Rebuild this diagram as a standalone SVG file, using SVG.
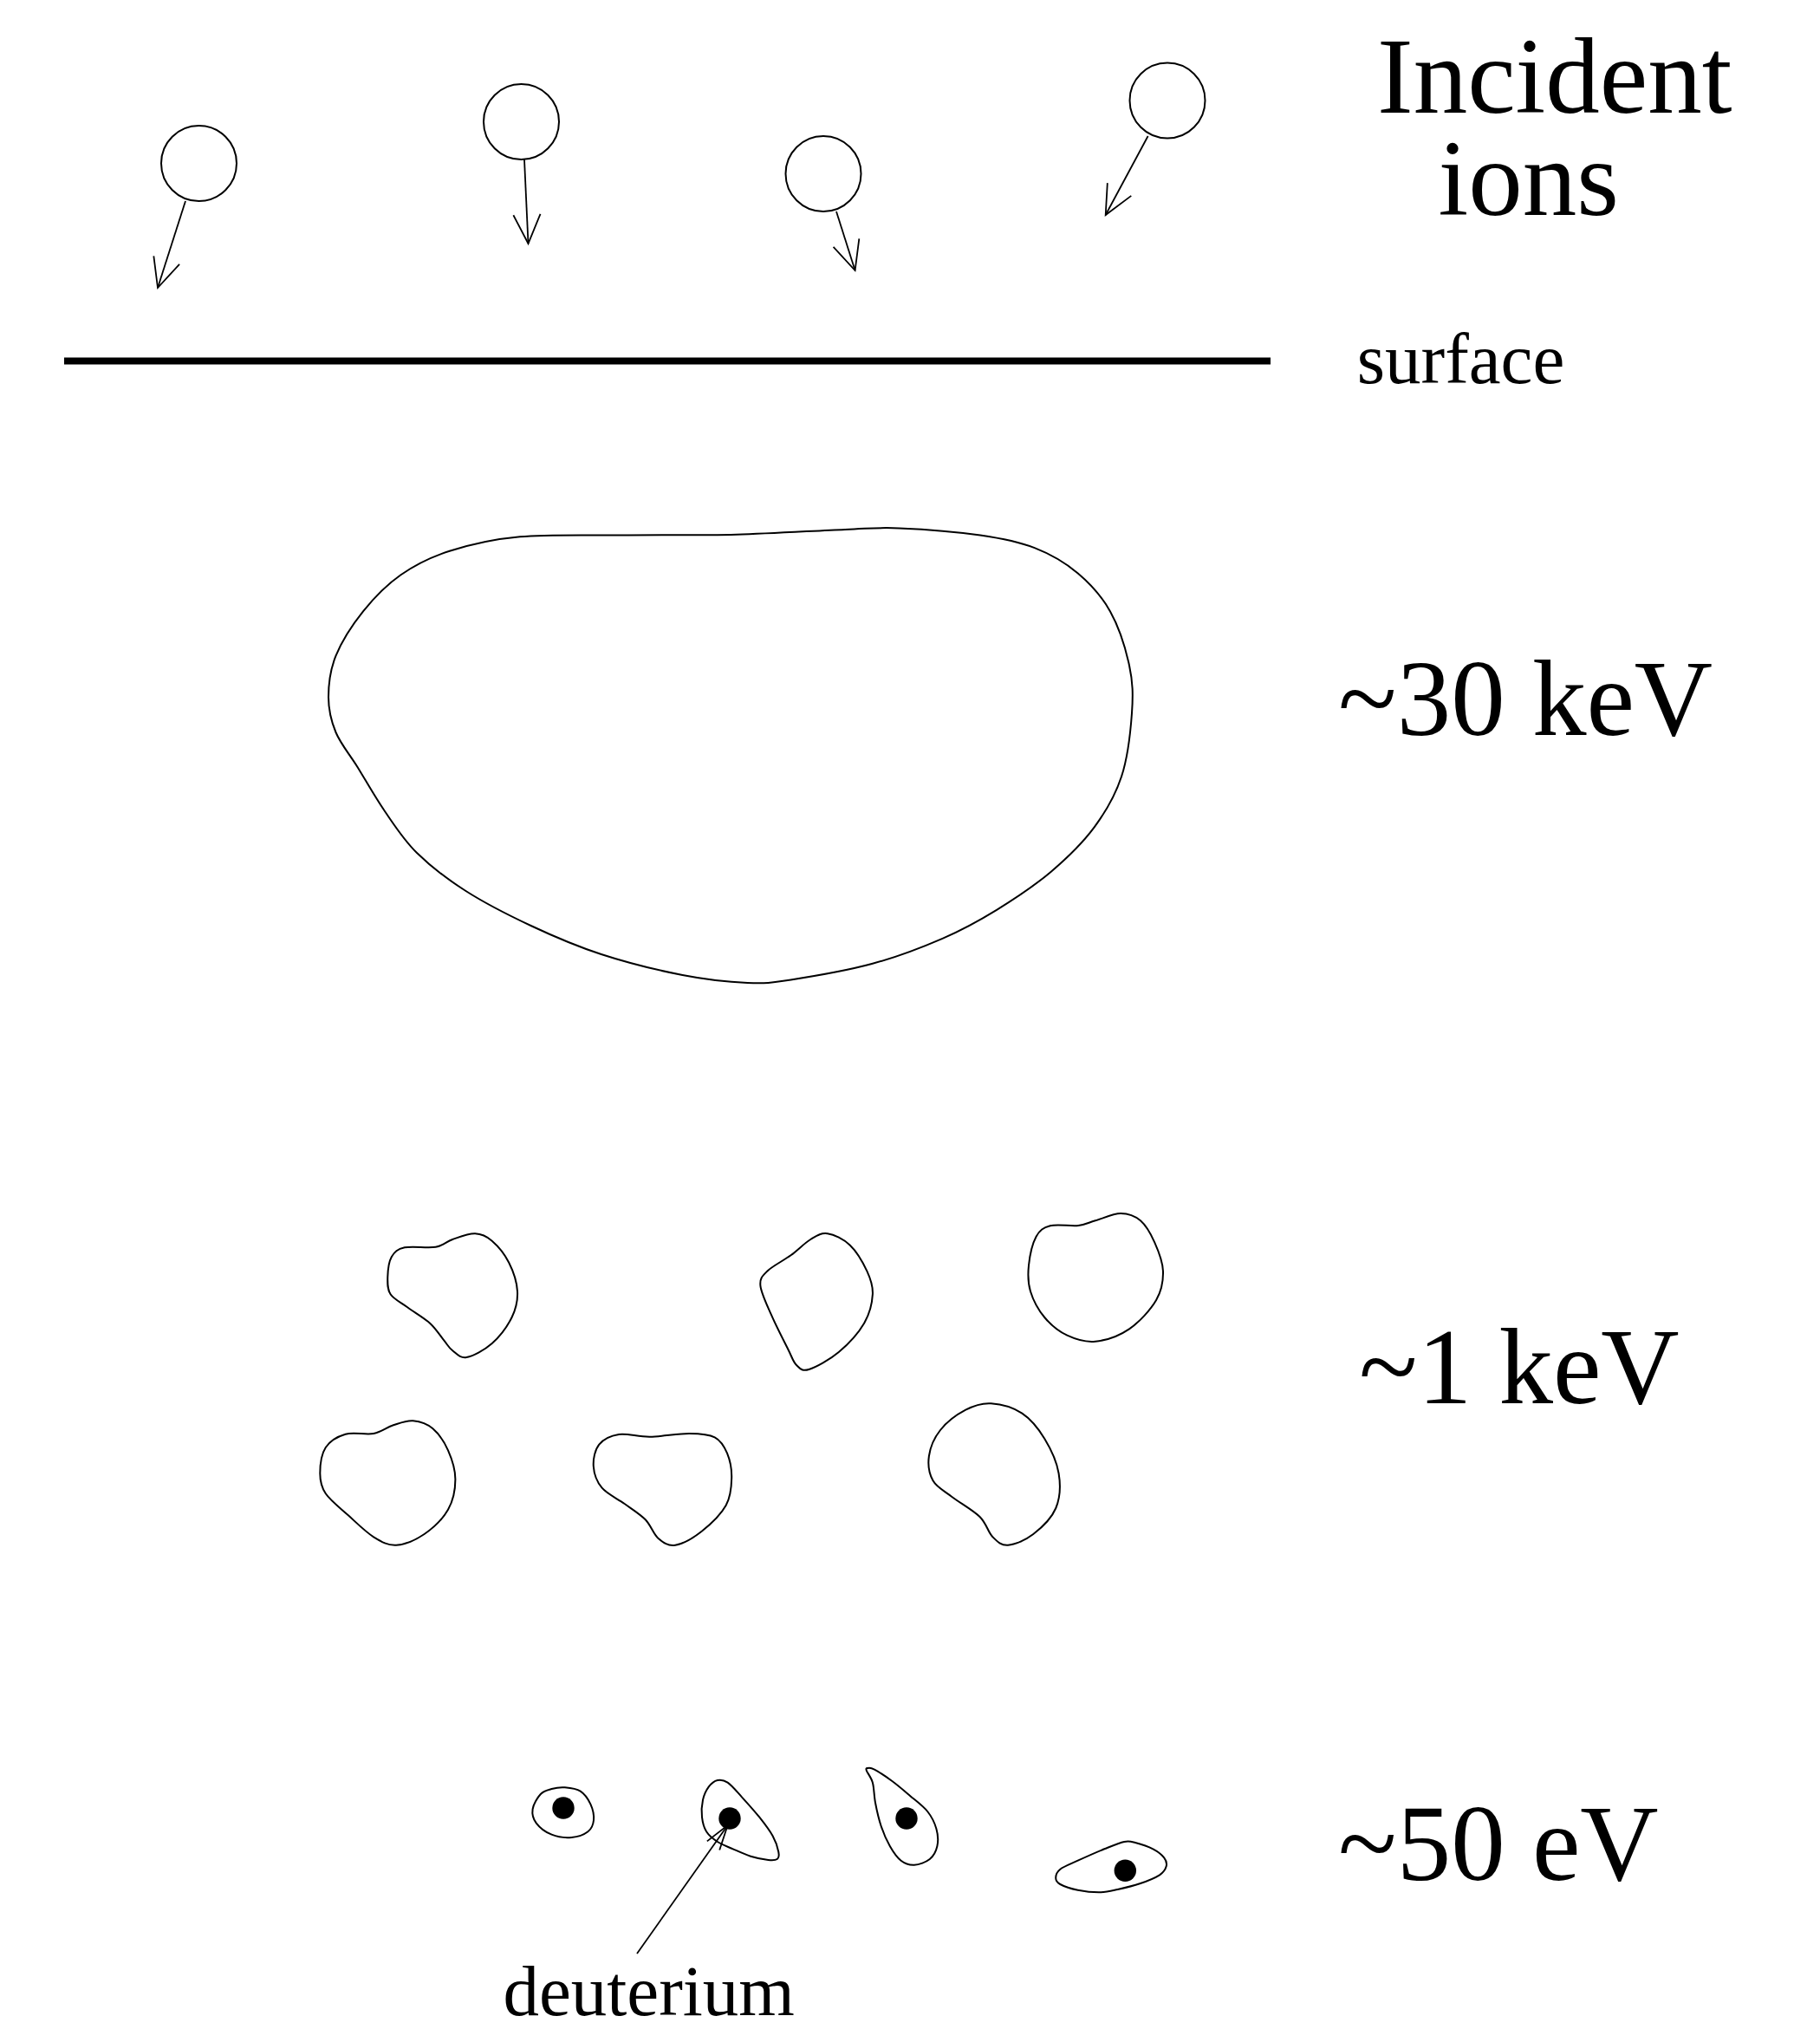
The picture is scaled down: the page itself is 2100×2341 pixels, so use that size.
<svg xmlns="http://www.w3.org/2000/svg" width="2100" height="2341" viewBox="0 0 2100 2341">
<style>
.ln{fill:none;stroke:#000;stroke-width:2;stroke-linejoin:round;stroke-linecap:round}
.ar{fill:none;stroke:#000;stroke-width:1.8}
.dot{fill:#000;stroke:none}
.big{font-family:"Liberation Serif","Times New Roman",serif;font-size:125px;fill:#000}
.sm{font-family:"Liberation Serif","Times New Roman",serif;font-size:83px;fill:#000}
</style>
<defs>
<marker id="vhead" markerUnits="userSpaceOnUse" orient="auto" refX="0" refY="0" markerWidth="40" markerHeight="40" overflow="visible">
<path d="M-33.5,-15.6 L0,0 L-33.5,15.6" fill="none" stroke="#000" stroke-width="1.8"/>
</marker>
<marker id="vhead2" markerUnits="userSpaceOnUse" orient="auto" refX="0" refY="0" markerWidth="40" markerHeight="40" overflow="visible">
<path d="M-28.7,-8.8 L0,0 L-28.7,8.8" fill="none" stroke="#000" stroke-width="1.8"/>
</marker>
</defs>
<rect x="0" y="0" width="2100" height="2341" fill="#fff"/>

<g id="ion1"><circle class="ln" cx="229.5" cy="188.5" r="43.5"/></g>
<g id="ion2"><circle class="ln" cx="601.5" cy="140.5" r="43.5"/></g>
<g id="ion3"><circle class="ln" cx="950" cy="200.5" r="43.5"/></g>
<g id="ion4"><circle class="ln" cx="1347" cy="116" r="43.5"/></g>

<g id="label-incident">
<text class="big"><tspan x="1589" y="130">Incident</tspan><tspan x="1659.5" y="248">ions</tspan></text>
</g>

<g id="surface">
<line x1="74" y1="416.5" x2="1466" y2="416.5" stroke="#000" stroke-width="8"/>
<text class="sm" x="1565.7" y="441.7">surface</text>
</g>

<g id="cascade-30keV">
<path class="ln" d="M518.75,635.8 C541.65,628.5 565.6,622.35 600,619.3 S683.3,617.9 725,617.5 S808.3,617.8 850,616.7 S943.75,612.1 975,610.9 S1011.5,608.3 1037.5,609.4 S1105,613.7 1131,617.5 S1174.95,624.8 1193.75,632.1 S1229.25,649.2 1243.75,661.4 S1271.1,687.7 1281,705.4 S1298.8,748.15 1303,767.7 S1307.5,801.3 1306,822.7 S1301.25,874 1294,896 S1276.1,936.3 1262.5,954.6 S1231.25,990 1212.5,1005.9 S1170.8,1037 1150,1049.8 S1111.5,1072.4 1087.5,1082.8 S1035.2,1104.1 1006,1112 S936.4,1126.7 912.5,1130.4 S883.3,1134.9 862.5,1134 S815.6,1130.5 787.5,1125 S722.95,1110.5 693.75,1101 S638.5,1080.2 612.5,1068 S559.4,1042 537.5,1028 S496.6,999.3 481,984 S455.4,952.5 444,936 S421.9,900.2 412.5,885 S393.1,858.45 387.5,845 S379,819 379,804.3 S380.8,773.2 387.5,756.7 S406.5,721 419,705.4 S445.9,674.9 462.5,663.3 S495.85,643.1 518.75,635.8 Z"/>
<text class="big" x="1544" y="848">~30 keV</text>
</g>

<g id="cascade-1keV">
<path class="ln" d="M466.9,1439.3 C475.4,1437.4 493.5,1440.25 502.7,1438.7 S514.6,1432.6 522.2,1430 S540.6,1423 548.2,1423.3 S561.2,1426.1 567.7,1431.7 S582.3,1447 587.2,1456.7 S596.45,1479.45 597,1490 S595.4,1510 590.5,1520 S576.4,1542.3 567.7,1550 S546,1564.6 538.4,1566 S526.5,1561.5 522.2,1558.3 S516.75,1552 512.4,1546.7 S503.15,1533.1 496.1,1526.7 S477.7,1513.9 470.1,1508.3 S454.4,1499.1 450.6,1493.3 S447.1,1480.5 447.3,1473.3 S448.6,1455.7 451.9,1450 S458.4,1441.2 466.9,1439.3 Z"/>
<path class="ln" d="M954.8,1423.3 C962.4,1424.4 973.2,1429.5 980.8,1436.7 S996.05,1457.3 1000.4,1466.7 S1007.45,1483.3 1006.9,1493.3 S1003.6,1515.6 997.1,1526.7 S978.4,1551.1 967.8,1560 S941.5,1577.5 933.4,1580 S923,1578.9 919,1575 S914.2,1566.4 909.3,1556.7 S895.1,1528.9 889.8,1516.7 S878.2,1491.6 877.4,1483.3 S879.35,1472.5 885.2,1466.7 S904.15,1454.4 912.5,1448.3 S928.25,1434.2 935.3,1430 S947.2,1422.2 954.8,1423.3 Z"/>
<path class="ln" d="M1211.8,1414.3 C1219.9,1412.2 1235.6,1415 1244.3,1414 S1255.8,1410.6 1263.9,1408.3 S1284.4,1400 1293.1,1400 S1309.4,1402.75 1315.9,1408.3 S1327.85,1423.6 1332.2,1433.3 S1341.7,1455.6 1342,1466.7 S1340.6,1488.9 1334.1,1500 S1314.7,1525.35 1303,1533.3 S1275.85,1546.5 1263.9,1547.7 S1241.1,1545.3 1231.3,1540.7 S1212.35,1528.45 1205.3,1520 S1192.05,1500 1189,1490 S1185.9,1470.55 1187,1460 S1191.5,1434.3 1195.6,1426.7 S1203.7,1416.4 1211.8,1414.3 Z"/>
<path class="ln" d="M398.6,1654.7 C407.8,1652 421.9,1655.7 431.1,1654 S446.3,1646.75 453.9,1644.3 S469,1638.6 476.6,1639.3 S492.7,1642.6 499.4,1648.3 S512.7,1663.6 517,1673.3 S525.4,1695.3 525.4,1706.7 S523,1731.15 517,1741.7 S499.6,1763.2 489.6,1770 S466.85,1782.15 457.1,1782.7 S440.3,1779 431.1,1773.3 S411,1756.6 401.8,1748.3 S381.2,1731.35 375.8,1723.3 S369.3,1708.9 369.3,1700 S370.9,1677.55 375.8,1670 S389.4,1657.4 398.6,1654.7 Z"/>
<path class="ln" d="M714.1,1655 C723.9,1653.5 736.35,1657.9 749.9,1657.7 S782.9,1653.9 795.4,1654 S817.4,1654.5 824.7,1658.3 S835.75,1668.9 839,1676.7 S844.4,1695 844.2,1705 S843.45,1726.4 837.7,1736.7 S819.45,1759 809.7,1766.7 S787.55,1781.3 779.2,1782.7 S765.35,1779.9 759.6,1775 S751.2,1760 744.7,1753.3 S728.95,1741.1 720.6,1735 S700.6,1723.9 694.6,1716.7 S685.35,1700 684.8,1691.7 S686.4,1672.8 691.3,1666.7 S704.3,1656.5 714.1,1655 Z"/>
<path class="ln" d="M1143.5,1619.3 C1154.35,1620 1169,1623.9 1179.3,1630.7 S1198.25,1648.45 1205.3,1660 S1219.4,1686.7 1221.6,1700 S1223.2,1728.3 1218.3,1740 S1201.5,1762.9 1192.3,1770 S1170.8,1782.15 1163,1782.7 S1150.8,1778.75 1145.4,1773.3 S1138.4,1757.8 1130.5,1750 S1107,1733.65 1098,1726.7 S1080.85,1716.1 1076.5,1708.3 S1070.5,1689.7 1071.9,1680 S1077.95,1658.9 1085,1650 S1104.45,1631.8 1114.2,1626.7 S1132.65,1618.6 1143.5,1619.3 Z"/>
<text class="big" x="1568" y="1619">~1 keV</text>
</g>

<g id="cascade-50eV">
<path class="ln" d="M651.8,2062.3 C657.3,2062.75 664.8,2063.5 669.7,2066.7 S678.85,2076.15 681.4,2081.7 S685.5,2094.7 685,2100 S682.65,2110 678.4,2113.3 S666.5,2119.4 659.5,2120 S643.3,2119.5 636.5,2116.7 S622.35,2108.2 618.7,2103.3 S613.75,2092.85 614.6,2087.3 S620.15,2073.9 623.8,2070 S631.8,2065.3 636.5,2064 S646.3,2061.85 651.8,2062.3 Z"/>
<circle class="dot" cx="650" cy="2086" r="12.7"/>
<path class="ln" d="M827.9,2054 C831.55,2053.2 834.9,2053.5 839.6,2056.7 S849.8,2066.6 855.9,2073.3 S870.35,2089.2 876.3,2096.7 S887.9,2111.6 891.6,2118.3 S897.45,2132.25 898.3,2136.7 S898.7,2143.45 896.7,2145 S891.6,2146.55 886.5,2146 S872.9,2143.8 866.1,2141.7 S852.1,2136.1 845.7,2133.3 S833,2128.3 827.9,2125 S818.1,2118 815.1,2113.3 S810.7,2102.8 810,2096.7 S809.7,2082.5 811,2076.7 S814.9,2065.5 817.7,2061.7 S824.25,2054.8 827.9,2054 Z"/>
<circle class="dot" cx="842" cy="2098" r="12.7"/>
<path class="ln" d="M1001.3,2040 C1002.8,2039.8 1004.3,2039.2 1009,2041.7 S1022.6,2050 1029.4,2055 S1043,2065.9 1049.8,2071.7 S1065.1,2083.6 1070.2,2090 S1078.5,2103.3 1080.4,2110 S1082.7,2124.2 1081.4,2130 S1077.2,2141.4 1072.8,2145 S1060.4,2151.4 1054.9,2151.7 S1044.3,2150.3 1039.6,2146.7 S1030.6,2136.7 1026.8,2130 S1019.4,2115 1016.6,2106.7 S1011.6,2088.3 1010,2080 S1008.6,2062.9 1006.9,2056.7 S1000.7,2045.5 999.8,2042.7 S999.8,2040.2 1001.3,2040 Z"/>
<circle class="dot" cx="1046" cy="2098" r="12.7"/>
<path class="ln" d="M1218.2,2166.7 C1218.2,2163.8 1219.05,2160 1223.3,2156.7 S1235.2,2150.6 1243.7,2146.7 S1265.4,2136.9 1274.3,2133.3 S1291.25,2126.2 1297.2,2125 S1304.5,2124.6 1310,2126 S1324.9,2130.4 1330.4,2133.3 S1340.65,2140 1343.2,2143.3 S1346.6,2150 1345.7,2153.3 S1343.1,2160 1338,2163.3 S1323.2,2170.5 1315.1,2173.3 S1297.25,2178.3 1289.6,2180 S1276.85,2183.2 1269.2,2183.3 S1251.35,2182.25 1243.7,2180.7 S1227.55,2176.3 1223.3,2174 S1218.2,2169.6 1218.2,2166.7 Z"/>
<circle class="dot" cx="1298.3" cy="2158.3" r="12.7"/>
<text class="big" x="1544" y="2169">~50 eV</text>
</g>

<g id="label-deuterium">
<text class="sm" x="580.4" y="2325">deuterium</text>
</g>

<g id="connectors">
<line class="ar" x1="214" y1="232" x2="182" y2="332" marker-end="url(#vhead)"/>
<line class="ar" x1="605" y1="184" x2="609.5" y2="281" marker-end="url(#vhead)"/>
<line class="ar" x1="965" y1="244" x2="986.6" y2="312" marker-end="url(#vhead)"/>
<line class="ar" x1="1324.6" y1="157" x2="1275.7" y2="248" marker-end="url(#vhead)"/>
<line class="ar" x1="735" y1="2254" x2="839.6" y2="2106" marker-end="url(#vhead2)"/>
</g>
</svg>
